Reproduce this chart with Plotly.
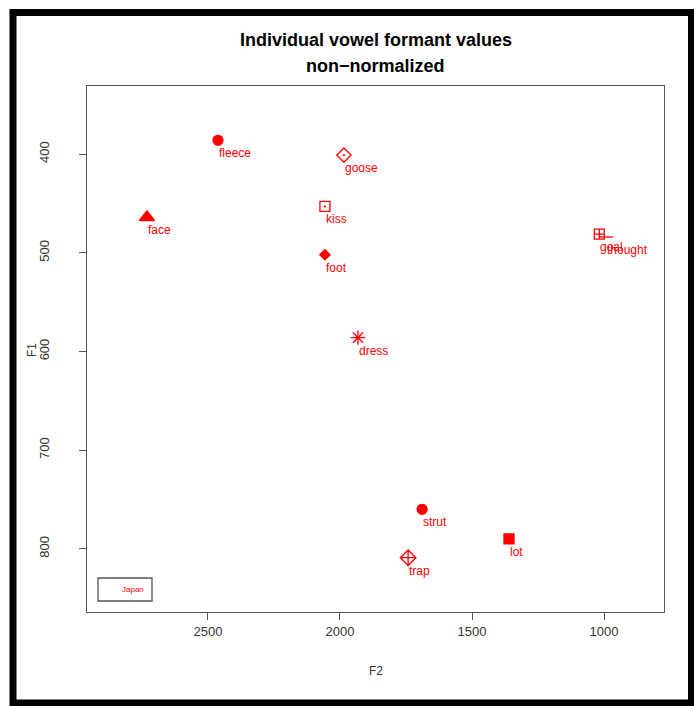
import plotly.graph_objects as go

# ---- data ----
vowels = ["fleece", "goose", "kiss", "foot", "face", "dress", "goal", "thought", "strut", "lot", "trap"]
f2_values = [2462, 1985, 2057, 2057, 2731, 1932, 1018, 992, 1689, 1360, 1742]
f1_values = [386, 401, 453, 502, 464, 586, 481, 484, 760, 790, 809]
x_ticks = [2500, 2000, 1500, 1000]
y_ticks = [400, 500, 600, 700, 800]
speaker = "Japan"
title_lines = ["Individual vowel formant values", "non\u2212normalized"]

# ---- style ----
symbols = ["circle", "diamond-open-dot", "square-open-dot", "diamond", "triangle-up",
           "asterisk-open", "square-cross-open", "line-ew-open", "circle", "square",
           "diamond-cross-open"]
sizes = [10, 11, 10, 8, 13, 12, 10, 10, 10, 10, 12]
RED = "#FF0000"
FONT = "Liberation Sans, Arial, Helvetica, sans-serif"

W, H = 694, 706
L, R, T, B = 87, 664, 86, 612  # plot frame in pixels


def px(xp):
    return (xp - L) / (R - L)


def py(yp):
    return (B - yp) / (B - T)


fig = go.Figure()
for v, x, y, s, sz in zip(vowels, f2_values, f1_values, symbols, sizes):
    fig.add_trace(go.Scatter(
        x=[x], y=[y], mode="markers", name=v, showlegend=False,
        marker=dict(symbol=s, size=sz, color=RED, line=dict(color=RED, width=1.3)),
    ))
    fig.add_annotation(x=x, y=y, xref="x", yref="y", text=v, showarrow=False,
                       xanchor="left", yanchor="top", xshift=-1, yshift=-4,
                       font=dict(family=FONT, size=12, color=RED))

axis_common = dict(showline=True, linecolor="#555555", linewidth=1.3, mirror=True,
                   ticks="outside", ticklen=7, tickcolor="#555555", tickwidth=1.3,
                   showgrid=False, zeroline=False,
                   tickfont=dict(family=FONT, size=13, color="#333333"))

fig.update_layout(
    width=W, height=H,
    margin=dict(l=L, r=W - R, t=T, b=H - B),
    paper_bgcolor="white", plot_bgcolor="white",
    xaxis=dict(range=[2958, 773], tickvals=x_ticks, ticklabelstandoff=0, **axis_common),
    yaxis=dict(range=[864, 331], tickvals=y_ticks, tickangle=-90, ticklabelstandoff=25,
               **axis_common),
)

# title (two lines)
for txt, yc in zip(title_lines, [40, 66]):
    fig.add_annotation(x=px((L + R) / 2), y=py(yc), xref="paper", yref="paper",
                       text="<b>" + txt + "</b>", showarrow=False,
                       xanchor="center", yanchor="middle",
                       font=dict(family=FONT, size=18, color="black"))

# axis titles
fig.add_annotation(x=px((L + R) / 2), y=py(671), xref="paper", yref="paper", text="F2",
                   showarrow=False, xanchor="center", yanchor="middle",
                   font=dict(family=FONT, size=12, color="#333333"))
fig.add_annotation(x=px(32), y=py(350), xref="paper", yref="paper", text="F1",
                   showarrow=False, xanchor="center", yanchor="middle", textangle=-90,
                   font=dict(family=FONT, size=12, color="#333333"))

# outer thick black frame
fig.add_shape(type="rect", xref="paper", yref="paper",
              x0=px(13), x1=px(691.5), y0=py(703), y1=py(12.5),
              line=dict(color="black", width=7), fillcolor="rgba(0,0,0,0)", layer="above")

# legend box
fig.add_shape(type="rect", xref="paper", yref="paper",
              x0=px(98), x1=px(152), y0=py(601), y1=py(578),
              line=dict(color="#555555", width=1.3))
fig.add_annotation(x=px(133), y=py(589.5), xref="paper", yref="paper", text=speaker,
                   showarrow=False, xanchor="center", yanchor="middle",
                   font=dict(family=FONT, size=8, color=RED))

fig.write_html("out.html", config={"displayModeBar": False},
               post_script="document.body.style.margin='0';document.body.style.padding='0';")
